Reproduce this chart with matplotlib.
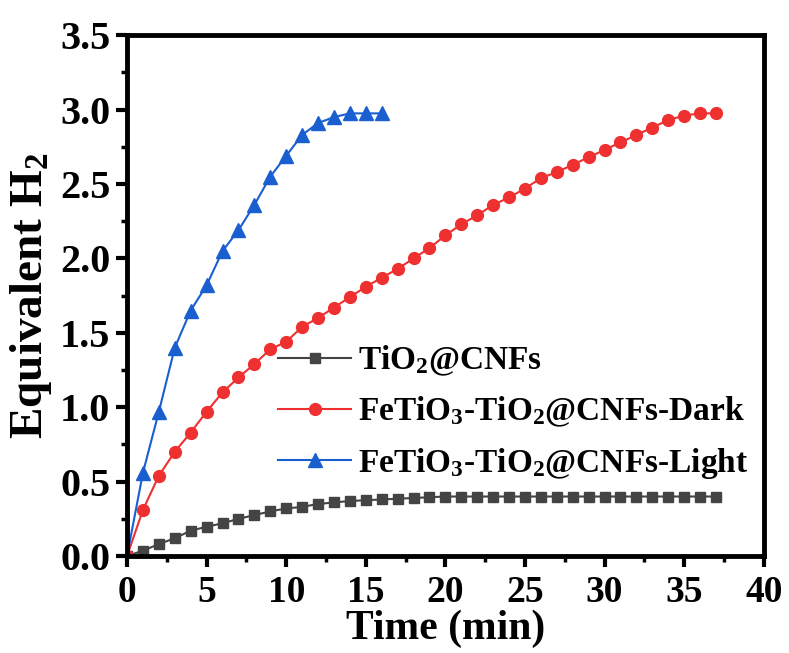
import numpy as np
import matplotlib
matplotlib.use("Agg")
import matplotlib.pyplot as plt
from matplotlib.ticker import MultipleLocator

plt.rcParams['font.family'] = 'Liberation Serif'
plt.rcParams['font.weight'] = 'bold'
plt.rcParams['mathtext.fontset'] = 'custom'
plt.rcParams['mathtext.rm'] = 'Liberation Serif:bold'
plt.rcParams['mathtext.bf'] = 'Liberation Serif:bold'
plt.rcParams['mathtext.it'] = 'Liberation Serif:bold:italic'
plt.rcParams['mathtext.default'] = 'rm'

# time (min)
t_grey = list(range(0, 38))
t_red = list(range(0, 38))
t_blue = list(range(0, 17))

# equivalent H2
grey = [0.0, 0.036, 0.08, 0.12, 0.17, 0.197, 0.22, 0.25, 0.275, 0.30, 0.32,
        0.33, 0.35, 0.36, 0.37, 0.375, 0.38, 0.385, 0.39, 0.395, 0.40, 0.40,
        0.40, 0.40, 0.40, 0.40, 0.40, 0.40, 0.40, 0.40, 0.40, 0.40, 0.40,
        0.40, 0.40, 0.40, 0.40, 0.40]
red = [0.0, 0.31, 0.54, 0.70, 0.83, 0.97, 1.10, 1.20, 1.29, 1.39, 1.44,
       1.54, 1.60, 1.67, 1.74, 1.81, 1.87, 1.93, 2.00, 2.07, 2.155, 2.23,
       2.29, 2.36, 2.41, 2.47, 2.54, 2.58, 2.63, 2.68, 2.73, 2.78, 2.83,
       2.88, 2.93, 2.96, 2.975, 2.975]
blue = [0.0, 0.56, 0.97, 1.40, 1.65, 1.82, 2.05, 2.19, 2.36, 2.55, 2.69,
        2.83, 2.91, 2.95, 2.975, 2.975, 2.975]

labels = [r"TiO$_2$@CNFs",
          r"FeTiO$_3$-TiO$_2$@CNFs-Dark",
          r"FeTiO$_3$-TiO$_2$@CNFs-Light"]

fig = plt.figure(figsize=(7.89, 6.53), dpi=100)
ax = fig.add_axes([0.161, 0.1485, 0.807, 0.7975])

ax.plot(t_grey, grey, color='#444444', marker='s', markersize=7, lw=1.5, label=labels[0])
ax.plot(t_red, red, color='#ee3030', marker='o', markersize=8.5, lw=1.5, label=labels[1])
ax.plot(t_blue, blue, color='#1a5fd0', marker='^', markersize=9.5, lw=1.5, label=labels[2])

ax.set_xlim(0, 40)
ax.set_ylim(0, 3.5)
ax.xaxis.set_major_locator(MultipleLocator(5))
ax.xaxis.set_minor_locator(MultipleLocator(2.5))
ax.yaxis.set_major_locator(MultipleLocator(0.5))
ax.yaxis.set_minor_locator(MultipleLocator(0.25))
ax.yaxis.set_major_formatter(matplotlib.ticker.FormatStrFormatter('%.1f'))

for s in ax.spines.values():
    s.set_linewidth(3.5)
ax.tick_params(which='major', direction='out', length=8, width=3)
ax.tick_params(which='minor', direction='out', length=4, width=2.5)
ax.tick_params(axis='x', which='major', labelsize=27, pad=6)
ax.tick_params(axis='y', which='major', labelsize=29, pad=4)

ax.set_xlabel("Time (min)", fontsize=30, fontweight='bold', labelpad=-1)
ax.set_ylabel(r"Equivalent H$_2$", fontsize=34, fontweight='bold', labelpad=4)

ax.legend(loc='upper left', bbox_to_anchor=(0.19, 0.465), frameon=False,
          fontsize=24, handlelength=2.2, handletextpad=0.2, labelspacing=0.5)

fig.savefig("out.png", dpi=100)
